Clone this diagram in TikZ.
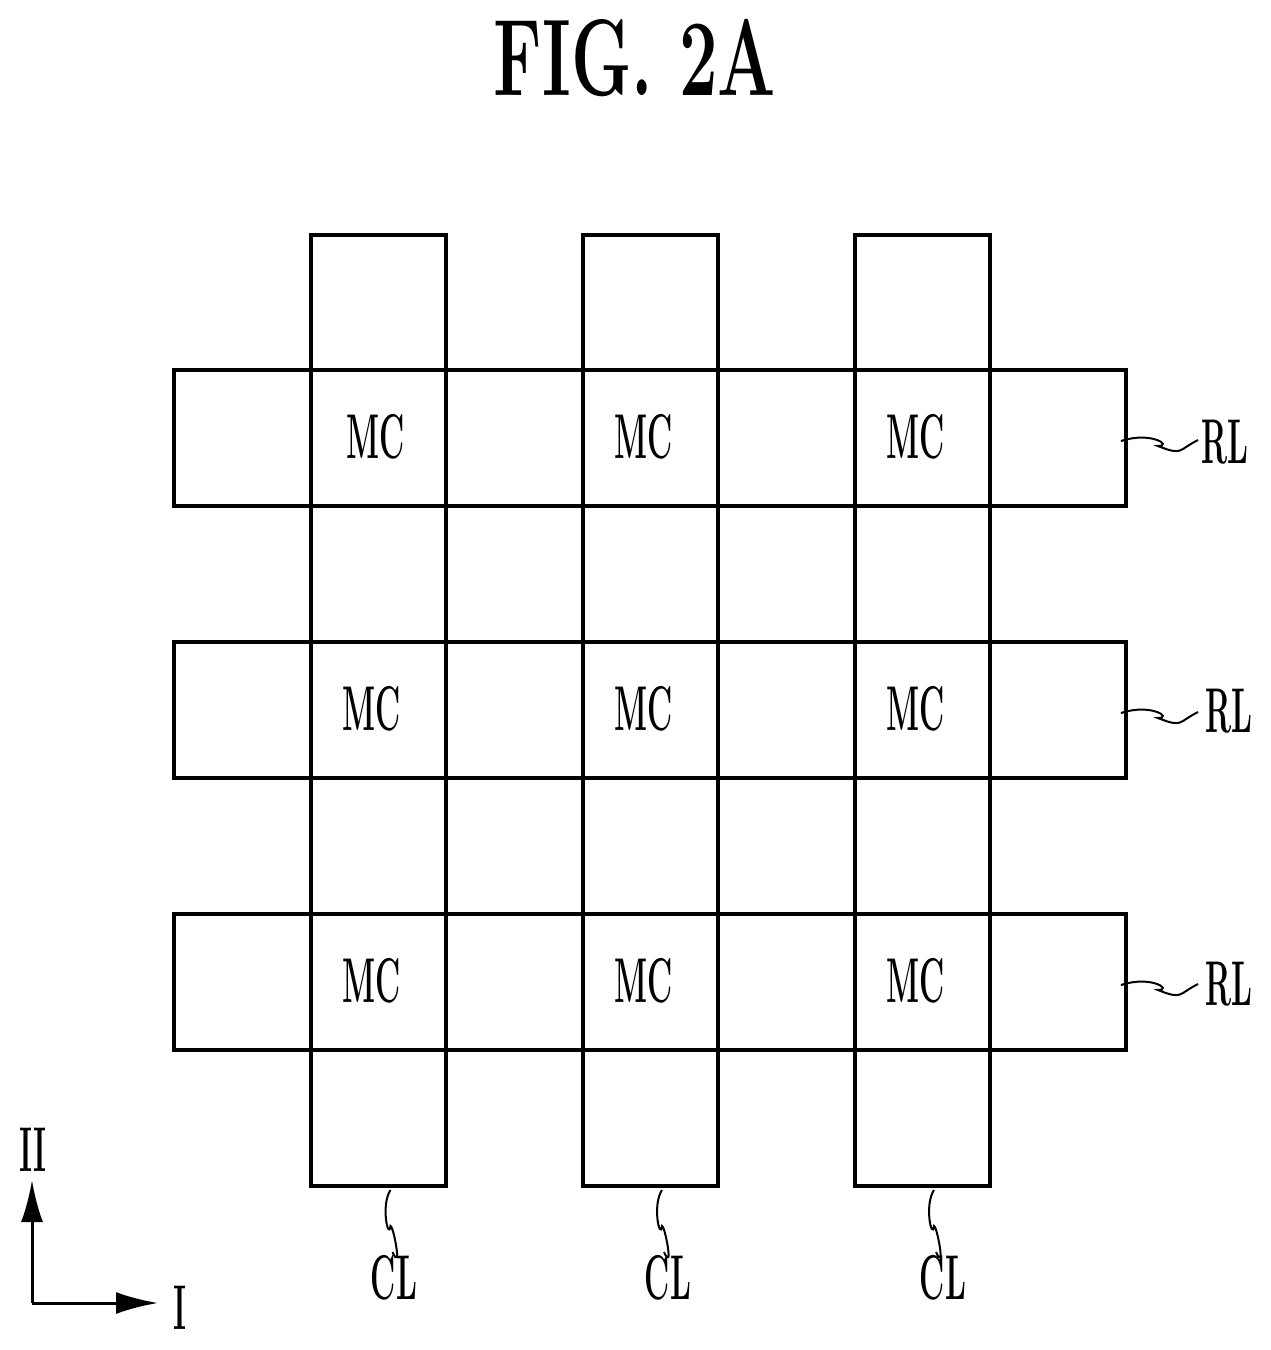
\documentclass[tikz,border=0pt]{standalone}
\usepackage{amsmath}
\usetikzlibrary{arrows.meta}
\usetikzlibrary{calc}

\tikzset{
    linebox/.style = {draw=black, line width=0.04cm, inner sep=0pt},
    lbl/.style = {font=\fontsize{18}{18}\selectfont\bfseries, xscale=0.49, inner sep=0pt},
    wavy/.style = {black, line width=0.02cm},
    axis/.style = {black, line width=0.03cm, -{Latex[length=0.42cm, width=0.22cm]}}
}

\begin{document}
\begin{tikzpicture}
            \useasboundingbox (0,0) rectangle (12.71,-13.5);

            \node[font=\fontsize{31}{31}\selectfont\bfseries, xscale=0.63, inner sep=0pt] (title) at (6.35,-0.58) {FIG. 2A};

            % column and row lines
            \foreach \i/\x in {1/3.785, 2/6.50, 3/9.22}
                \node[linebox, minimum width=1.35cm, minimum height=9.51cm] (cl\i) at (\x,-7.105) {};
            \foreach \i/\y in {1/-4.38, 2/-7.10, 3/-9.82}
                \node[linebox, minimum width=9.52cm, minimum height=1.36cm] (rl\i) at (6.50,\y) {};

            % cell labels
            \node[lbl] (mc1) at (3.76,-4.37) {MC};
            \node[lbl] (mc2) at (6.44,-4.37) {MC};
            \node[lbl] (mc3) at (9.16,-4.37) {MC};
            \node[lbl] (mc4) at (3.72,-7.09) {MC};
            \node[lbl] (mc5) at (6.44,-7.09) {MC};
            \node[lbl] (mc6) at (9.16,-7.09) {MC};
            \node[lbl] (mc7) at (3.72,-9.81) {MC};
            \node[lbl] (mc8) at (6.44,-9.81) {MC};
            \node[lbl] (mc9) at (9.16,-9.81) {MC};

            % leaders
            \foreach \i/\y in {1/-4.42, 2/-7.11, 3/-9.84}{
                \node[lbl] (rllab\i) at ({\i==1 ? 12.25 : 12.29},\y) {RL};
                \draw[wavy] ($(rl\i.east)+(-0.07,-0.03)$) .. controls +(0.30,0.10) and +(0.15,0.00) .. ($(rl\i.east)+(0.30,-0.08)$)
                    .. controls +(0.25,-0.10) and +(-0.20,-0.10) .. ($(rl\i.east)+(0.70,-0.02)$);
            }
            \foreach \i/\x in {1/3.94, 2/6.68, 3/9.43}{
                \node[lbl] (cllab\i) at (\x,-12.78) {CL};
                \draw[wavy] ($(cl\i.south)+(0.12,-0.02)$) .. controls +(-0.10,-0.15) and +(-0.02,-0.15) .. ($(cl\i.south)+(0.12,-0.38)$)
                    .. controls +(0.03,0.00) and +(0.10,-0.22) .. ($(cl\i.south)+(0.14,-0.64)$);
            }

            % direction arrows
            \coordinate (corner) at (0.32,-13.03);
            \node[lbl] (axII) at (0.33,-11.50) {II};
            \node[lbl] (axI) at (1.80,-13.08) {I};
            \coordinate (tipII) at (0.32,-11.80);
            \coordinate (tipI) at (1.58,-13.03);
            \draw[axis] (corner) -- (tipII);
            \draw[axis] (corner) -- (tipI);
        \end{tikzpicture}
\end{document}
